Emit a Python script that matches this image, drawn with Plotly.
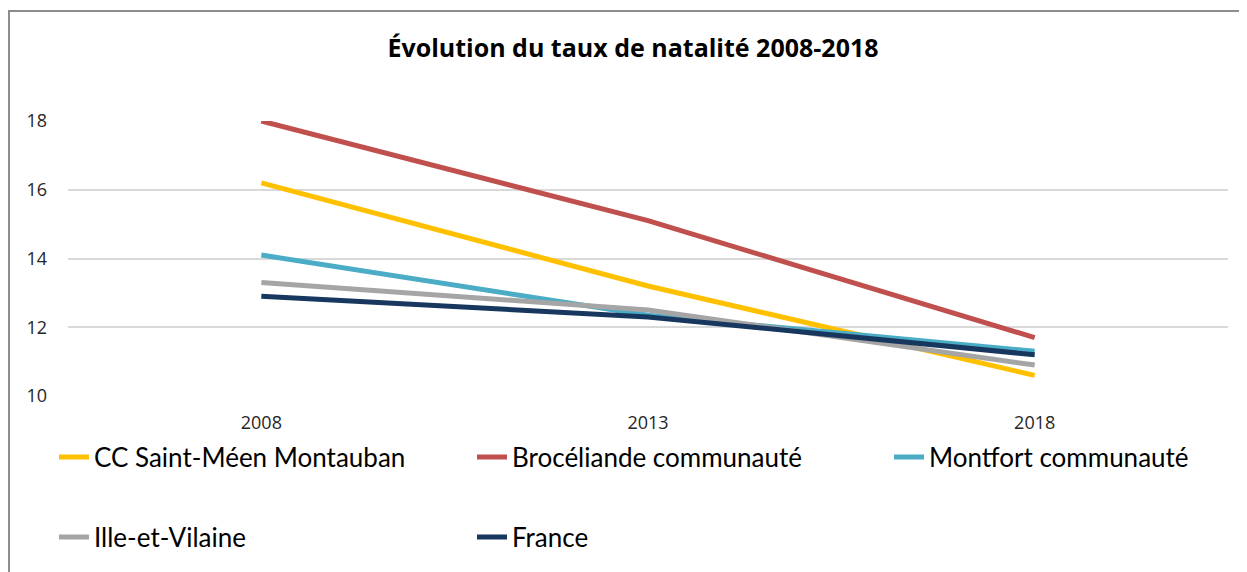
import plotly.graph_objects as go

annees = ["2008", "2013", "2018"]
saint_meen = [16.2, 13.2, 10.6]
broceliande = [18.0, 15.1, 11.7]
montfort = [14.1, 12.35, 11.3]
ille_et_vilaine = [13.3, 12.5, 10.9]
france = [12.9, 12.3, 11.2]

# the page body adds an 8px margin, so the figure is drawn 8px smaller
W, H = 1239, 564
L, R, T, B = 60, 1220, 113, 388   # plot area in figure pixels
pw, ph = R - L, B - T

def px(x):
    return (x - L) / pw

def py(y):
    return (B - y) / ph

series = [
    ("CC Saint-Méen Montauban", saint_meen, "#FFC000", "legend"),
    ("Brocéliande communauté", broceliande, "#C0504D", "legend"),
    ("Montfort communauté", montfort, "#4BACC6", "legend3"),
    ("Ille-et-Vilaine", ille_et_vilaine, "#A5A5A5", "legend2"),
    ("France", france, "#17375E", "legend2"),
]

fig = go.Figure()
for name, vals, color, leg in series:
    fig.add_trace(go.Scatter(
        x=annees, y=vals, name=name, mode="lines",
        line=dict(color=color, width=5),
        legend=leg,
    ))

legend_style = dict(
    orientation="h", xanchor="left", yanchor="middle",
    entrywidth=373, entrywidthmode="pixels",
    font=dict(family="Lato, sans-serif", size=26, color="#000000"),
    bgcolor="rgba(0,0,0,0)", itemwidth=30,
)

tick_font = dict(family="Open Sans, sans-serif", size=18, color="#262626")

fig.update_layout(
    width=W, height=H,
    margin=dict(l=L, r=W - R, t=T, b=H - B, autoexpand=False),
    paper_bgcolor="white", plot_bgcolor="white",
    title=dict(text="<b>Évolution du taux de natalité 2008-2018</b>",
               x=625 / W, xref="container", xanchor="center",
               y=1 - 40 / H, yref="container", yanchor="middle",
               font=dict(family="Open Sans, sans-serif", size=25, color="#000000")),
    font=dict(family="Open Sans, sans-serif", size=18, color="#262626"),
    xaxis=dict(type="category", range=[-0.5, 2.5], showgrid=False,
               showline=False, ticks="", ticklabelstandoff=14, tickfont=tick_font),
    yaxis=dict(range=[10, 18], dtick=2, showgrid=True, gridcolor="#D9D9D9",
               gridwidth=1.5, zeroline=False, showline=False, ticks="",
               ticklabelstandoff=20, tickfont=tick_font),
    legend=dict(x=px(46), y=py(449), **legend_style),
    legend3=dict(x=px(881), y=py(449), **legend_style),
    legend2=dict(x=px(46), y=py(529), **legend_style),
    showlegend=True,
    shapes=[dict(type="rect", xref="paper", yref="paper",
                 x0=px(1), x1=px(1300), y0=py(3), y1=py(650),
                 line=dict(color="#8C8C8C", width=2), layer="below")],
)

fig.write_html("out.html")
